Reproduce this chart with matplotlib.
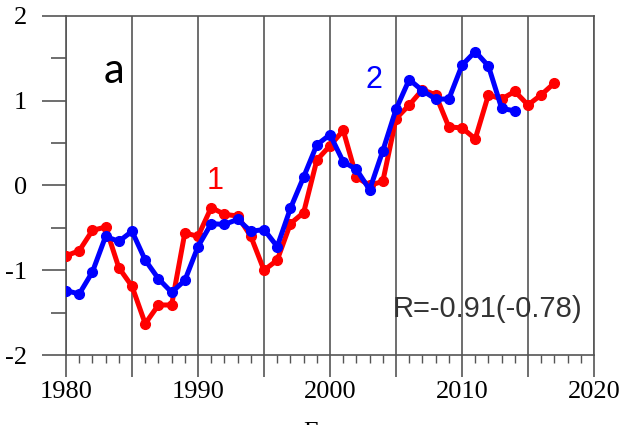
import numpy as np
import matplotlib.pyplot as plt
from matplotlib.ticker import MultipleLocator, FixedLocator

# series 1 (red), 1980-2017
years1 = np.arange(1980, 2018)
s1 = [-0.83, -0.77, -0.53, -0.49, -0.97, -1.19, -1.63, -1.41, -1.41, -0.56,
      -0.60, -0.26, -0.34, -0.36, -0.60, -1.00, -0.88, -0.45, -0.32, 0.30,
      0.47, 0.65, 0.10, 0.00, 0.05, 0.79, 0.95, 1.13, 1.07, 0.69,
      0.68, 0.55, 1.07, 1.02, 1.11, 0.95, 1.07, 1.21]

# series 2 (blue), 1980-2014
years2 = np.arange(1980, 2015)
s2 = [-1.24, -1.28, -1.02, -0.60, -0.66, -0.54, -0.88, -1.10, -1.26, -1.12,
      -0.72, -0.45, -0.46, -0.40, -0.54, -0.52, -0.72, -0.27, 0.10, 0.48,
      0.60, 0.28, 0.19, -0.05, 0.41, 0.90, 1.25, 1.12, 1.02, 1.02,
      1.42, 1.58, 1.41, 0.91, 0.88]

xticks = [1980, 1985, 1990, 1995, 2000, 2005, 2010, 2015, 2020]
xlabels = ['1980', '', '1990', '', '2000', '', '2010', '', '2020']
yticks = [-2, -1, 0, 1, 2]
ylabels = ['-2', '-1', '0', '1', '2']

fc = '#555555'
serif = 'Liberation Serif'

fig = plt.figure(figsize=(6.24, 4.25), dpi=100)
ax = fig.add_axes([0.1058, 0.1647, 0.8462, 0.7977])

ax.plot(years1, s1, color='#ff0000', lw=3.6, marker='o', ms=7, zorder=3)
ax.plot(years2, s2, color='#0000ff', lw=3.6, marker='o', ms=7, zorder=4)

ax.set_xlim(1980, 2020)
ax.set_ylim(-2, 2)

ax.set_xticks(xticks)
ax.set_xticklabels(xlabels, fontfamily=serif, fontsize=19)
ax.xaxis.set_minor_locator(MultipleLocator(1))
ax.set_yticks(yticks)
ax.set_yticklabels(ylabels, fontfamily=serif, fontsize=19)
ax.yaxis.set_minor_locator(FixedLocator([-1.5, -0.5, 0.5, 1.5]))

ax.tick_params(axis='x', which='major', direction='out', length=16, width=1.2,
               color=fc, pad=3)
ax.tick_params(axis='x', which='minor', direction='out', length=6, width=1.0,
               color=fc)
ax.tick_params(axis='y', which='major', direction='out', length=17, width=1.2,
               color=fc, pad=11)
ax.tick_params(axis='y', which='minor', direction='out', length=11, width=1.2,
               color=fc)

ax.grid(True, axis='x', which='major', color=fc, lw=1.2)
for sp in ax.spines.values():
    sp.set_color(fc)
    sp.set_linewidth(1.2)

ax.text(1983.6, 1.35, 'a', fontfamily='Lato', fontsize=30, color='black',
        ha='center', va='center')
ax.text(1991.3, 0.05, '1', fontfamily='Liberation Sans', fontsize=22,
        color='#ff0000', ha='center', va='center')
ax.text(2003.3, 1.24, '2', fontfamily='Liberation Sans', fontsize=22,
        color='#0000ff', ha='center', va='center')
ax.text(2019.1, -1.46, 'R=-0.91(-0.78)', fontfamily='Liberation Sans',
        fontsize=21, color='#333333', ha='right', va='center')

fig.text(0.529, 0.008, 'Годы', fontfamily=serif, fontsize=18, ha='center',
         va='top')

fig.savefig('out.png', dpi=100)
